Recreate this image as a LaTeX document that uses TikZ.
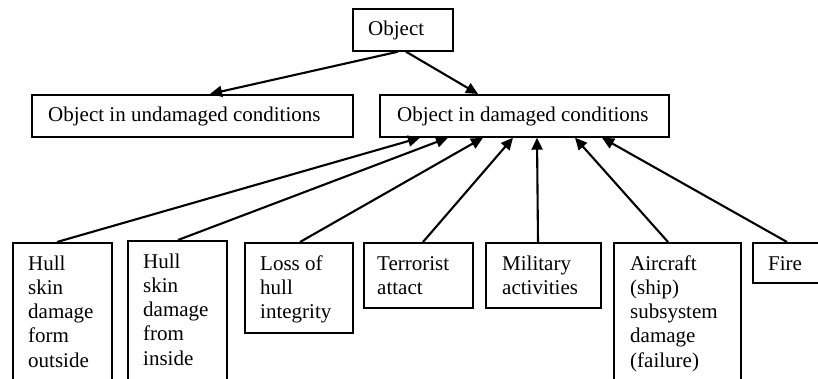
\documentclass[tikz,border=0pt]{standalone}
\usepackage{fontspec}
\setmainfont{Liberation Serif}
\usetikzlibrary{arrows.meta,calc}
\tikzset{
  box/.style={draw, line width=1.7pt, rectangle, inner sep=0pt, anchor=north west},
  txt/.style={inner sep=0pt, anchor=base west, align=left, font=\fontsize{21}{24.3}\selectfont},
  conn/.style={line width=2.1pt, -{Triangle[length=12pt,width=11pt]}},
}
\begin{document}
\begin{tikzpicture}[x=1pt,y=-1pt]
\clip (0,0) rectangle (818,378);
\fill[white] (0,0) rectangle (818,378);
% top
\node[box, minimum width=100pt, minimum height=42pt] (obj) at (352,8) {};
\node[txt] (tobj) at (368,35) {Object};
\node[box, minimum width=321pt, minimum height=42pt] (und) at (31,94) {};
\node[txt] (tund) at (48,121) {Object in undamaged conditions};
\node[box, minimum width=289pt, minimum height=42pt] (dam) at (379,94) {};
\node[txt] (tdam) at (397,121) {Object in damaged conditions};
% bottom boxes (text anchored at the baseline of its last line)
\node[box, minimum width=99pt, minimum height=160pt] (b1) at (12,242) {};
\node[txt] (t1) at (28,367.2) {Hull\\skin\\damage\\form\\outside};
\node[box, minimum width=99pt, minimum height=160pt] (b2) at (127,240) {};
\node[txt] (t2) at (143,365.2) {Hull\\skin\\damage\\from\\inside};
\node[box, minimum width=108pt, minimum height=90pt] (b3) at (244,242) {};
\node[txt] (t3) at (260,318.6) {Loss of\\hull\\integrity};
\node[box, minimum width=109pt, minimum height=65pt] (b4) at (363,242) {};
\node[txt] (t4) at (377,294.3) {Terrorist\\attact};
\node[box, minimum width=115pt, minimum height=65pt] (b5) at (485,242) {};
\node[txt] (t5) at (502,294.3) {Military\\activities};
\node[box, minimum width=127pt, minimum height=160pt] (b6) at (613,242) {};
\node[txt] (t6) at (630,367.2) {Aircraft\\(ship)\\subsystem\\damage\\(failure)};
\node[box, minimum width=80pt, minimum height=40pt] (b7) at (752,242) {};
\node[txt] (t7) at (768,270) {Fire};
% connectors
\draw[conn] ($(obj.south west)+(46,0)$) -- ($(und.north west)+(179,0)$);
\draw[conn] ($(obj.south west)+(54,0)$) -- ($(dam.north west)+(99,0)$);
\draw[conn] ($(b1.north west)+(45,0)$) -- ($(dam.south west)+(41,0)$);
\draw[conn] ($(b2.north west)+(51,0)$) -- ($(dam.south west)+(69,0)$);
\draw[conn] ($(b3.north west)+(56,0)$) -- ($(dam.south west)+(104,0)$);
\draw[conn] ($(b4.north west)+(60,0)$) -- ($(dam.south west)+(134,0)$);
\draw[conn] ($(b5.north west)+(53,0)$) -- ($(dam.south west)+(158,0)$);
\draw[conn] ($(b6.north west)+(55,0)$) -- ($(dam.south west)+(196,0)$);
\draw[conn] ($(b7.north west)+(35,0)$) -- ($(dam.south west)+(223,0)$);
\end{tikzpicture}
\end{document}
